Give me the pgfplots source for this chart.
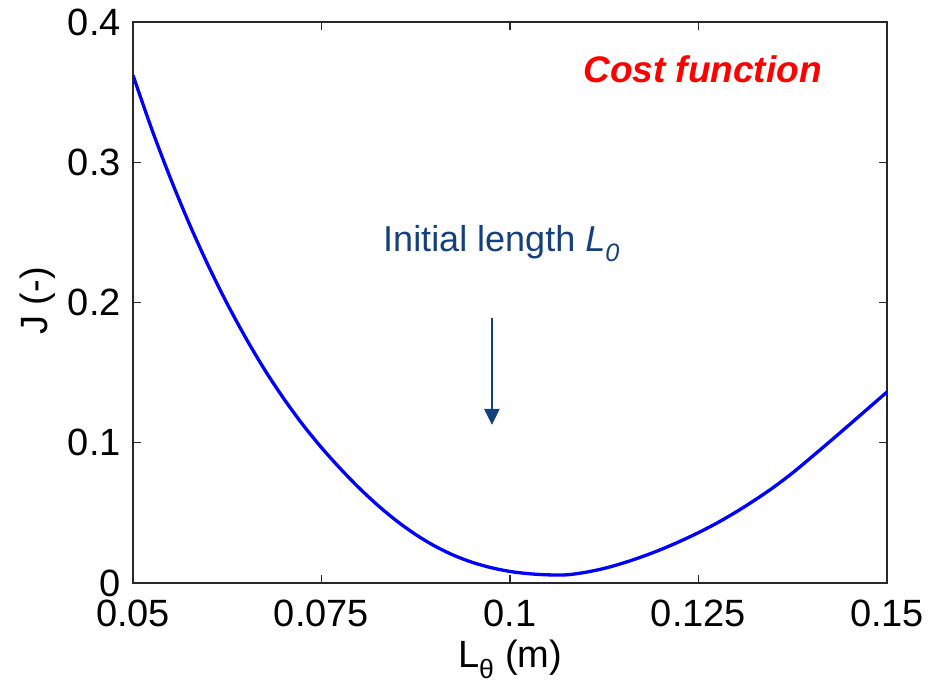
\documentclass[border=0pt]{standalone}
\usepackage{pgfplots}
\pgfplotsset{compat=1.18}
\usetikzlibrary{arrows.meta}
\usepackage{fontspec}
\setmainfont{Liberation Sans}
\definecolor{curveblue}{RGB}{0,0,255}
\definecolor{annblue}{RGB}{20,64,125}
\definecolor{axgray}{RGB}{40,40,40}
\begin{document}
\begin{tikzpicture}
\begin{axis}[
  scale only axis, width=754bp, height=561bp,
  xmin=0.05, xmax=0.15, ymin=0, ymax=0.4,
  xtick={0.05,0.075,0.1,0.125,0.15},
  xticklabels={0.05,0.075,0.1,0.125,0.15},
  ytick={0,0.1,0.2,0.3,0.4},
  yticklabels={0,0.1,0.2,0.3,0.4},
  tick align=inside, major tick length=8bp,
  axis line style={line width=1.4bp, draw=axgray},
  every tick/.style={line width=1.4bp, draw=axgray},
  ticklabel style={font=\fontsize{38bp}{44bp}\selectfont, inner sep=0pt},
  xticklabel style={anchor=north, yshift=-17bp},
  yticklabel style={anchor=east, xshift=-12bp},
  xlabel={L\textsubscript{θ} (m)},
  ylabel={J (-)},
  label style={font=\fontsize{38bp}{44bp}\selectfont, inner sep=0pt},
  xlabel style={at={(axis description cs:0.5,-0.1515)}, anchor=base},
  ylabel style={at={(axis description cs:-0.114,0.503)}, anchor=base},
]
\addplot[curveblue, line width=3.3bp, smooth] coordinates {
(0.0500,0.3620) (0.0525,0.3234) (0.0550,0.2881) (0.0575,0.2557) (0.0600,0.2261)
(0.0625,0.1990) (0.0650,0.1743) (0.0675,0.1517) (0.0700,0.1314) (0.0725,0.1130)
(0.0750,0.0965) (0.0775,0.0815) (0.0800,0.0677) (0.0825,0.0552) (0.0850,0.0441)
(0.0875,0.0345) (0.0900,0.0264) (0.0925,0.0198) (0.0950,0.0147) (0.0975,0.0109)
(0.1000,0.0082) (0.1025,0.0066) (0.1050,0.0058) (0.1075,0.0058) (0.1100,0.0076)
(0.1125,0.0104) (0.1150,0.0142) (0.1175,0.0187) (0.1200,0.0238) (0.1225,0.0296)
(0.1250,0.0359) (0.1275,0.0429) (0.1300,0.0507) (0.1325,0.0592) (0.1350,0.0684)
(0.1375,0.0786) (0.1400,0.0898) (0.1425,0.1012) (0.1450,0.1128) (0.1475,0.1245)
(0.1500,0.1362)
};
\draw[annblue, line width=2.5bp, -{Triangle[length=16bp,width=15bp]}]
  (axis cs:0.0976,0.189) -- (axis cs:0.0976,0.1127);
\node[anchor=base west, inner sep=0pt, text=red, font=\fontsize{37bp}{44bp}\selectfont\bfseries\itshape]
  at (axis cs:0.1097,0.3572) {Cost function};
\node[anchor=base west, inner sep=0pt, text=annblue, font=\fontsize{36bp}{44bp}\selectfont]
  at (axis cs:0.08316,0.236) {Initial length \textit{L}\textsubscript{\textit{0}}};
\coordinate (bbA) at (rel axis cs:-0.1764,-0.1961);
\coordinate (bbB) at (rel axis cs:1.0597,1.0392);
\end{axis}
\pgfresetboundingbox
\path (bbA) rectangle (bbB);
\end{tikzpicture}
\end{document}
